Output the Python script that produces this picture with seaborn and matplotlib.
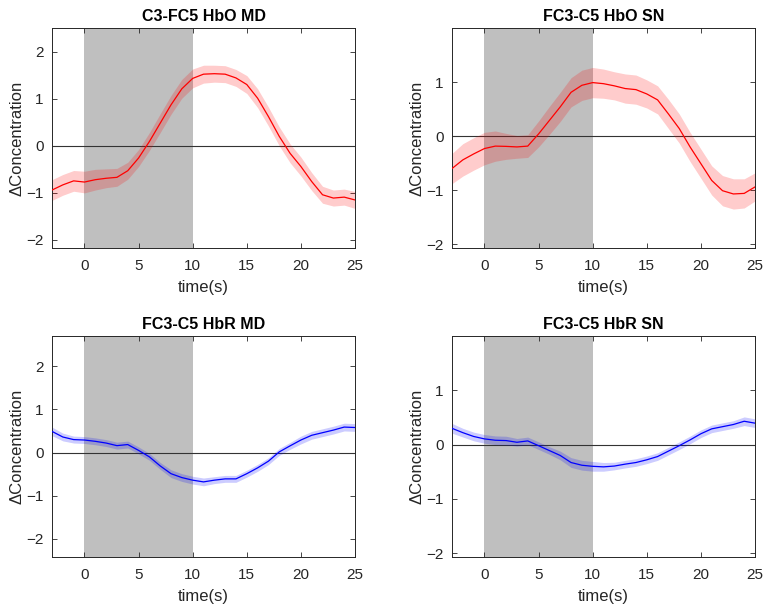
import numpy as np
import matplotlib
matplotlib.use("Agg")
import matplotlib.pyplot as plt
import seaborn as sns

time_s = [-3, -2, -1, 0, 1, 2, 3, 4, 5, 6, 7, 8, 9, 10, 11, 12, 13, 14,
          15, 16, 17, 18, 19, 20, 21, 22, 23, 24, 25]

hbo_md = [-0.94, -0.83, -0.745, -0.77, -0.72, -0.69, -0.67, -0.53, -0.26, 0.09,
          0.48, 0.87, 1.21, 1.43, 1.52, 1.53, 1.52, 1.44, 1.30, 1.01, 0.62, 0.20,
          -0.16, -0.44, -0.76, -1.04, -1.11, -1.09, -1.15]
hbo_md_err = [0.22, 0.22, 0.22, 0.23, 0.22, 0.2, 0.19, 0.18, 0.18, 0.19, 0.2, 0.2,
              0.2, 0.2, 0.19, 0.18, 0.18, 0.18, 0.19, 0.2, 0.2, 0.2, 0.2, 0.2,
              0.19, 0.18, 0.17, 0.17, 0.18]

hbo_sn = [-0.60, -0.44, -0.33, -0.23, -0.185, -0.19, -0.20, -0.185, 0.04, 0.29,
          0.54, 0.81, 0.94, 0.99, 0.97, 0.93, 0.88, 0.86, 0.78, 0.67, 0.41, 0.14,
          -0.20, -0.51, -0.82, -1.01, -1.07, -1.06, -0.94]
hbo_sn_err = [0.28, 0.3, 0.3, 0.3, 0.28, 0.24, 0.21, 0.21, 0.24, 0.26, 0.27, 0.27,
              0.28, 0.28, 0.27, 0.26, 0.27, 0.27, 0.26, 0.26, 0.27, 0.27, 0.27,
              0.27, 0.27, 0.28, 0.28, 0.27, 0.26]

hbr_md = [0.49, 0.36, 0.30, 0.29, 0.26, 0.22, 0.16, 0.185, 0.05, -0.10, -0.31,
          -0.49, -0.58, -0.64, -0.68, -0.64, -0.61, -0.61, -0.49, -0.355, -0.20,
          0.015, 0.155, 0.29, 0.40, 0.46, 0.52, 0.59, 0.58]
hbr_md_err = [0.1, 0.09, 0.08, 0.08, 0.08, 0.08, 0.08, 0.08, 0.08, 0.08, 0.08,
              0.09, 0.09, 0.09, 0.09, 0.08, 0.08, 0.08, 0.08, 0.08, 0.08, 0.08,
              0.08, 0.09, 0.09, 0.09, 0.09, 0.09, 0.09]

hbr_sn = [0.30, 0.22, 0.15, 0.105, 0.08, 0.074, 0.043, 0.068, -0.02, -0.11,
          -0.20, -0.33, -0.38, -0.40, -0.41, -0.395, -0.36, -0.33, -0.28, -0.22,
          -0.12, -0.02, 0.086, 0.20, 0.29, 0.33, 0.37, 0.43, 0.395]
hbr_sn_err = [0.09, 0.08, 0.08, 0.08, 0.08, 0.08, 0.07, 0.07, 0.07, 0.07, 0.08,
              0.09, 0.09, 0.09, 0.08, 0.07, 0.07, 0.07, 0.07, 0.07, 0.07, 0.07,
              0.07, 0.07, 0.07, 0.07, 0.07, 0.08, 0.08]

titles = ["C3-FC5 HbO MD", "FC3-C5 HbO SN", "FC3-C5 HbR MD", "FC3-C5 HbR SN"]
stim_window = [0, 10]
x_ticks = [0, 5, 10, 15, 20, 25]

sns.set_style("ticks")
plt.rcParams['font.family'] = ['Liberation Sans', 'DejaVu Sans']

fig = plt.figure(figsize=(7.66, 6.07), dpi=100)
fig.patch.set_facecolor("white")

panels = [
    (hbo_md, hbo_md_err, "#ff0000", (-2.17, 2.5), [-2, -1, 0, 1, 2],
     [52 / 766, 1 - 248 / 607, 303 / 766, 220 / 607]),
    (hbo_sn, hbo_sn_err, "#ff0000", (-2.07, 2.0), [-2, -1, 0, 1],
     [452 / 766, 1 - 248 / 607, 303 / 766, 220 / 607]),
    (hbr_md, hbr_md_err, "#0000ff", (-2.42, 2.7), [-2, -1, 0, 1, 2],
     [52 / 766, 1 - 557 / 607, 303 / 766, 221 / 607]),
    (hbr_sn, hbr_sn_err, "#0000ff", (-2.07, 2.0), [-2, -1, 0, 1],
     [452 / 766, 1 - 557 / 607, 303 / 766, 221 / 607]),
]

t = np.array(time_s)
dark = "#262626"
for (mean, err, col, ylim, yt, rect), title in zip(panels, titles):
    ax = fig.add_axes(rect)
    m = np.array(mean)
    e = np.array(err)
    ax.axvspan(stim_window[0], stim_window[1], color="#bfbfbf", lw=0, zorder=0)
    ax.axhline(0, color="#333333", lw=0.8, zorder=1)
    ax.fill_between(t, m - e, m + e, color=col, alpha=0.2, lw=0, zorder=2)
    sns.lineplot(x=t, y=m, ax=ax, color=col, lw=0.9, zorder=3)
    ax.set_xlim(-3, 25)
    ax.set_ylim(*ylim)
    ax.set_xticks(x_ticks)
    ax.set_yticks(yt)
    ax.tick_params(direction="in", length=3.5, width=0.6, colors=dark,
                   labelsize=11, top=True, right=True, pad=6)
    ax.tick_params(axis="x", pad=8)
    for s in ax.spines.values():
        s.set_visible(True)
        s.set_linewidth(0.7)
        s.set_color(dark)
    ax.set_xlabel("time(s)", fontsize=12, color=dark, labelpad=5)
    ax.set_ylabel("\u0394Concentration", fontsize=12, color=dark, labelpad=1)
    ax.set_title(title, fontsize=11.5, fontweight="bold", color="black", pad=5)

fig.savefig("out.png", dpi=100, facecolor="white")
